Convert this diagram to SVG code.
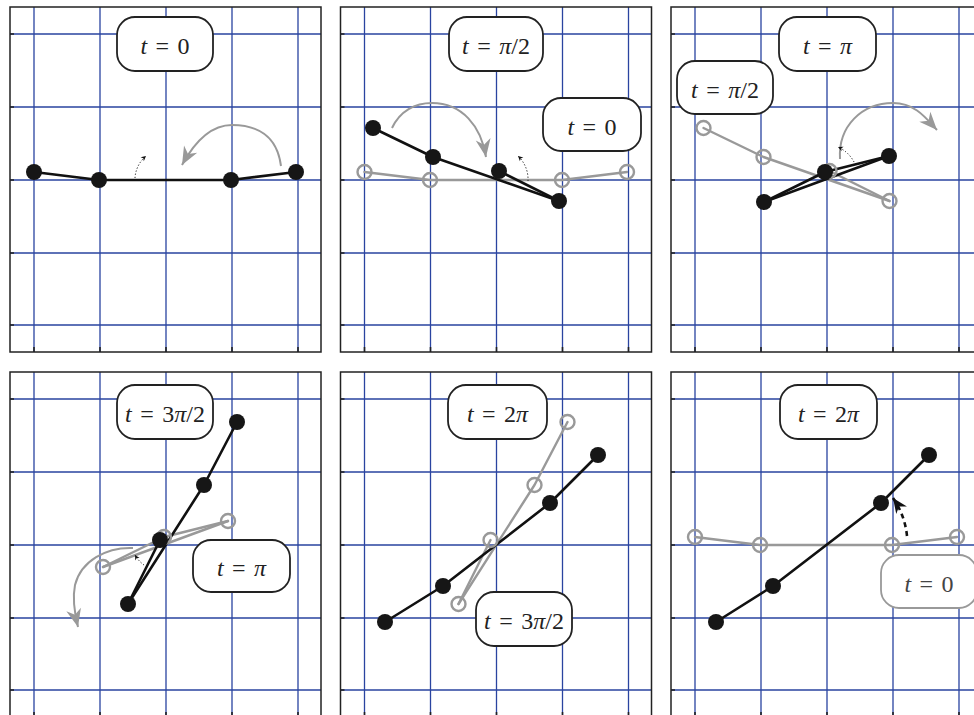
<svg xmlns="http://www.w3.org/2000/svg" width="974" height="715" viewBox="0 0 974 715">
<style>
.fr{fill:#fff;stroke:none}
.fo{fill:none;stroke:#222;stroke-width:1.5}
.gl{stroke:#2a44a0;stroke-width:1.3;fill:none}
.tk{stroke:#222;stroke-width:1.6;fill:none}
.bl{fill:none;stroke:#111;stroke-width:2.6;stroke-linejoin:round;stroke-linecap:round}
.gr{fill:none;stroke:#999;stroke-width:2.4;stroke-linejoin:round;stroke-linecap:round}
.nb{fill:#161616}
.ng{fill:none;stroke:#999;stroke-width:2.4}
.arc{fill:none;stroke:#999;stroke-width:2;marker-end:url(#mg)}
.dot{fill:none;stroke:#111;stroke-width:1;stroke-dasharray:1.2 2;marker-end:url(#mb)}
.dash{fill:none;stroke:#111;stroke-width:2.6;stroke-dasharray:5 4;marker-end:url(#mk)}
.box{fill:#fff;stroke:#222;stroke-width:1.8}
.boxg{fill:#fff;stroke:#999;stroke-width:1.8}
.lt{font-family:"Liberation Serif","DejaVu Serif",serif;font-size:24px;text-anchor:middle;fill:#222;word-spacing:2.5px}
.ltg{fill:#444}
.it{font-style:italic}
</style>
<defs>
<marker id="mg" markerUnits="userSpaceOnUse" viewBox="-19 -9 20 18" markerWidth="20" markerHeight="18" refX="0" refY="0" orient="auto">
<path d="M0,0 L-18,-7.5 L-12.5,0 L-18,7.5 Z" fill="#999"/>
</marker>
<marker id="mb" markerUnits="userSpaceOnUse" viewBox="-6 -3 7 6" markerWidth="7" markerHeight="6" refX="0" refY="0" orient="auto">
<path d="M0,0 L-5,-2.5 L-3.5,0 L-5,2.5 Z" fill="#111"/>
</marker>
<marker id="mk" markerUnits="userSpaceOnUse" viewBox="-17 -8 18 16" markerWidth="18" markerHeight="16" refX="0" refY="0" orient="auto">
<path d="M0,0 L-15,-6.5 L-10.5,0 L-15,6.5 Z" fill="#111"/>
</marker>
<g id="grid">
<rect class="fr" x="10" y="7" width="311" height="345"/>
<path class="gl" d="M34,7V352M100,7V352M166,7V352M232,7V352M298,7V352M10,34H321M10,107H321M10,180H321M10,253H321M10,325H321"/>
<path class="tk" d="M10,34h4M10,107h4M10,180h4M10,253h4M10,325h4M34,352v-5M100,352v-5M166,352v-5M232,352v-5M298,352v-5"/>
<rect class="fo" x="10" y="7" width="311" height="345"/>
</g>
</defs>
<rect x="0" y="0" width="974" height="715" fill="#fff"/>

<!-- Panel 1 -->
<g id="panel1">
<use href="#grid"/>
<g id="p1-links">
<polyline class="bl" points="34,172 99,180 231,180 296,172"/>
<path class="arc" d="M281,166 C277,135 256,125 232,125 C211,125 194,143 182,165"/>
<path class="dot" d="M135,178 A31,31 0 0 1 146,156"/>
</g>
<g id="p1-n1"><circle class="nb" cx="34" cy="172" r="8"/></g>
<g id="p1-n2"><circle class="nb" cx="99" cy="180" r="8"/></g>
<g id="p1-n3"><circle class="nb" cx="231" cy="180" r="8"/></g>
<g id="p1-n4"><circle class="nb" cx="296" cy="172" r="8"/></g>
<g id="p1-label"><rect class="box" x="117" y="17" width="96" height="54" rx="18"/><text class="lt" x="165" y="54"><tspan class="it">t</tspan> = 0</text></g>
</g>

<!-- Panel 2 -->
<g id="panel2">
<use href="#grid" x="330.5"/>
<g id="p2-links">
<polyline class="gr" points="364.5,172 430,180 562,180 627,172"/>
<path class="arc" d="M392,128 C400,111 415,103 432,103 C462,103 481,126 486,157"/>
<path class="dot" d="M528,181 A32,32 0 0 0 518,156"/>
<polyline class="bl" points="373,128 433,157 559,201"/>
<line class="bl" x1="499" y1="171" x2="559" y2="201"/>
</g>
<g id="p2-g1"><circle class="ng" cx="364.5" cy="172" r="7"/></g>
<g id="p2-g2"><circle class="ng" cx="430" cy="180" r="7"/></g>
<g id="p2-g3"><circle class="ng" cx="562" cy="180" r="7"/></g>
<g id="p2-g4"><circle class="ng" cx="627" cy="172" r="7"/></g>
<g id="p2-n1"><circle class="nb" cx="373" cy="128" r="8"/></g>
<g id="p2-n2"><circle class="nb" cx="433" cy="157" r="8"/></g>
<g id="p2-n3"><circle class="nb" cx="499" cy="171" r="8"/></g>
<g id="p2-n4"><circle class="nb" cx="559" cy="201" r="8"/></g>
<g id="p2-label1"><rect class="box" x="449" y="17" width="94" height="54" rx="18"/><text class="lt" x="496" y="54"><tspan class="it">t</tspan> = <tspan class="it">π</tspan>/2</text></g>
<g id="p2-label2"><rect class="box" x="543" y="98" width="98" height="53" rx="18"/><text class="lt" x="592" y="134.5"><tspan class="it">t</tspan> = 0</text></g>
</g>

<!-- Panel 3 -->
<g id="panel3">
<use href="#grid" x="661"/>
<g id="p3-links">
<polyline class="gr" points="703.5,128 763.5,157 889.5,201"/>
<line class="gr" x1="829.5" y1="171" x2="889.5" y2="201"/>
<path class="arc" d="M840,159 C838,126 862,103 893,103 C915,103 926,118 937,130"/>
<path class="dot" d="M854,162 A33,33 0 0 0 838,147"/>
<polyline class="bl" points="764,202 825,172 889,156"/>
<line class="bl" x1="764" y1="202" x2="889" y2="156"/>
</g>
<g id="p3-g1"><circle class="ng" cx="703.5" cy="128" r="7"/></g>
<g id="p3-g2"><circle class="ng" cx="763.5" cy="157" r="7"/></g>
<g id="p3-g3"><circle class="ng" cx="829.5" cy="171" r="7"/></g>
<g id="p3-g4"><circle class="ng" cx="889.5" cy="201" r="7"/></g>
<g id="p3-n1"><circle class="nb" cx="764" cy="202" r="8"/></g>
<g id="p3-n2"><circle class="nb" cx="825" cy="172" r="8"/></g>
<g id="p3-n3"><circle class="nb" cx="889" cy="156" r="8"/></g>
<g id="p3-label1"><rect class="box" x="779" y="17" width="97" height="54" rx="18"/><text class="lt" x="827.5" y="54"><tspan class="it">t</tspan> = <tspan class="it">π</tspan></text></g>
<g id="p3-label2"><rect class="box" x="677" y="61" width="96" height="53" rx="18"/><text class="lt" x="725" y="97.5"><tspan class="it">t</tspan> = <tspan class="it">π</tspan>/2</text></g>
</g>

<!-- Panel 4 -->
<g id="panel4">
<use href="#grid" y="365"/>
<g id="p4-links">
<polyline class="gr" points="103,567 164,537 228,521"/>
<line class="gr" x1="103" y1="567" x2="228" y2="521"/>
<path class="arc" d="M133,548 C106,547 81,561 75,585 C72,600 75,615 78,627"/>
<path class="dot" d="M144,565 A31,31 0 0 1 135,555"/>
<polyline class="bl" points="237,422 204,485 128,604"/>
<line class="bl" x1="160" y1="540" x2="128" y2="604"/>
</g>
<g id="p4-g1"><circle class="ng" cx="103" cy="567" r="7"/></g>
<g id="p4-g2"><circle class="ng" cx="164" cy="537" r="7"/></g>
<g id="p4-g3"><circle class="ng" cx="228" cy="521" r="7"/></g>
<g id="p4-n1"><circle class="nb" cx="237" cy="422" r="8"/></g>
<g id="p4-n2"><circle class="nb" cx="204" cy="485" r="8"/></g>
<g id="p4-n3"><circle class="nb" cx="160" cy="540" r="8"/></g>
<g id="p4-n4"><circle class="nb" cx="128" cy="604" r="8"/></g>
<g id="p4-label1"><rect class="box" x="117" y="385" width="96" height="54" rx="18"/><text class="lt" x="165" y="422"><tspan class="it">t</tspan> = 3<tspan class="it">π</tspan>/2</text></g>
<g id="p4-label2"><rect class="box" x="193" y="540" width="97" height="52" rx="18"/><text class="lt" x="241.5" y="576"><tspan class="it">t</tspan> = <tspan class="it">π</tspan></text></g>
</g>

<!-- Panel 5 -->
<g id="panel5">
<use href="#grid" x="330.5" y="365"/>
<g id="p5-links">
<polyline class="gr" points="567.5,422 534.5,485 458.5,604"/>
<line class="gr" x1="490.5" y1="540" x2="458.5" y2="604"/>
<polyline class="bl" points="598,455 550,503 443,586 385,622"/>
</g>
<g id="p5-g1"><circle class="ng" cx="567.5" cy="422" r="7"/></g>
<g id="p5-g2"><circle class="ng" cx="534.5" cy="485" r="7"/></g>
<g id="p5-g3"><circle class="ng" cx="490.5" cy="540" r="7"/></g>
<g id="p5-g4"><circle class="ng" cx="458.5" cy="604" r="7"/></g>
<g id="p5-n1"><circle class="nb" cx="598" cy="455" r="8"/></g>
<g id="p5-n2"><circle class="nb" cx="550" cy="503" r="8"/></g>
<g id="p5-n3"><circle class="nb" cx="443" cy="586" r="8"/></g>
<g id="p5-n4"><circle class="nb" cx="385" cy="622" r="8"/></g>
<g id="p5-label1"><rect class="box" x="448" y="385" width="99" height="54" rx="18"/><text class="lt" x="497.5" y="422"><tspan class="it">t</tspan> = 2<tspan class="it">π</tspan></text></g>
<g id="p5-label2"><rect class="box" x="476" y="592" width="96" height="54" rx="18"/><text class="lt" x="524" y="629"><tspan class="it">t</tspan> = 3<tspan class="it">π</tspan>/2</text></g>
</g>

<!-- Panel 6 -->
<g id="panel6">
<use href="#grid" x="661" y="365"/>
<g id="p6-links">
<polyline class="gr" points="695,537 760,545 892,545 957,537"/>
<polyline class="bl" points="929,455 881,503 773,586 716,622"/>
<path class="dash" d="M907,536 A80,80 0 0 0 893,498"/>
</g>
<g id="p6-g1"><circle class="ng" cx="695" cy="537" r="7"/></g>
<g id="p6-g2"><circle class="ng" cx="760" cy="545" r="7"/></g>
<g id="p6-g3"><circle class="ng" cx="892" cy="545" r="7"/></g>
<g id="p6-g4"><circle class="ng" cx="957" cy="537" r="7"/></g>
<g id="p6-n1"><circle class="nb" cx="929" cy="455" r="8"/></g>
<g id="p6-n2"><circle class="nb" cx="881" cy="503" r="8"/></g>
<g id="p6-n3"><circle class="nb" cx="773" cy="586" r="8"/></g>
<g id="p6-n4"><circle class="nb" cx="716" cy="622" r="8"/></g>
<g id="p6-label1"><rect class="box" x="780" y="385" width="97" height="54" rx="18"/><text class="lt" x="828.5" y="422"><tspan class="it">t</tspan> = 2<tspan class="it">π</tspan></text></g>
<g id="p6-label2"><rect class="boxg" x="881" y="555" width="96" height="53" rx="18"/><text class="lt ltg" x="929" y="591.5"><tspan class="it">t</tspan> = 0</text></g>
</g>
</svg>
